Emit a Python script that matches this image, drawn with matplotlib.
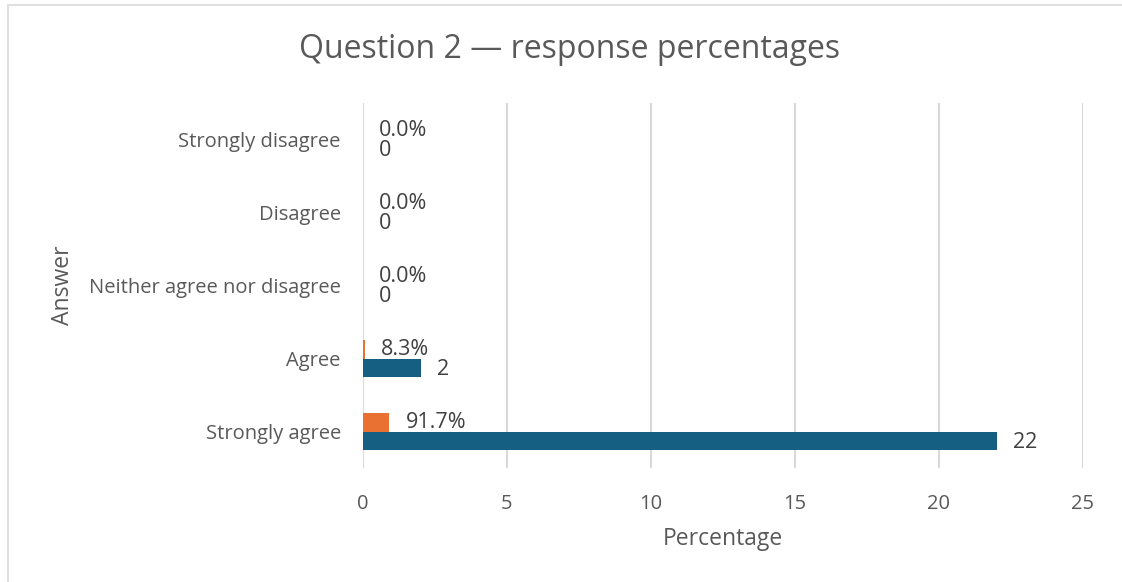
import matplotlib.pyplot as plt
from matplotlib.patches import Rectangle

# categories listed bottom to top
answers = ['Strongly agree', 'Agree', 'Neither agree nor disagree', 'Disagree', 'Strongly disagree']
counts = [22, 2, 0, 0, 0]
shares = [0.917, 0.083, 0.0, 0.0, 0.0]
share_labels = ['91.7%', '8.3%', '0.0%', '0.0%', '0.0%']
xticks = [0, 5, 10, 15, 20, 25]

plt.rcParams['font.family'] = ['Open Sans', 'DejaVu Sans']
text_col = '#595959'
grid_col = '#d9d9d9'

fig = plt.figure(figsize=(11.22, 5.82), dpi=100)
ax = fig.add_axes([363 / 1122, 1 - 468 / 582, 720 / 1122, 365 / 582])

# chart border (only top and left edges visible in the crop)
fig.patches.append(Rectangle((8 / 1122, -0.1), 1.2, 1 - 5 / 582 + 0.1,
                             transform=fig.transFigure, fill=False,
                             edgecolor=grid_col, linewidth=1.2))

pos = list(range(len(answers)))
h = 0.25
ax.barh([p + h / 2 for p in pos], shares, height=h, color='#E97132', zorder=3)
ax.barh([p - h / 2 for p in pos], counts, height=h, color='#156082', zorder=3)

for p, v, lab in zip(pos, shares, share_labels):
    ax.annotate(lab, (v, p + h / 2), xytext=(11.5, 0), textcoords='offset points',
                ha='left', va='center', fontsize=15.5, color='#404040')
for p, v in zip(pos, counts):
    ax.annotate(str(v), (v, p - h / 2), xytext=(11.5, -1), textcoords='offset points',
                ha='left', va='center', fontsize=15.5, color='#404040')

ax.set_xlim(0, 25)
ax.set_ylim(-0.5, 4.5)
ax.set_xticks(xticks)
ax.set_yticks(pos)
ax.set_yticklabels(answers)
ax.tick_params(axis='both', length=0, labelsize=14.5, labelcolor=text_col)
ax.tick_params(axis='x', pad=19)
ax.tick_params(axis='y', pad=16)
ax.grid(axis='x', color=grid_col, linewidth=1.5, zorder=0)
for s in ax.spines.values():
    s.set_visible(False)

ax.set_xlabel('Percentage', fontsize=16.5, color=text_col, labelpad=9)
ax.set_ylabel('Answer', fontsize=16.5, color=text_col, labelpad=10)
fig.text(570 / 1122, 1 - 50 / 582, 'Question 2 \u2014 response percentages',
         ha='center', va='center', fontsize=23, color=text_col)

fig.savefig('out.png', dpi=100)
